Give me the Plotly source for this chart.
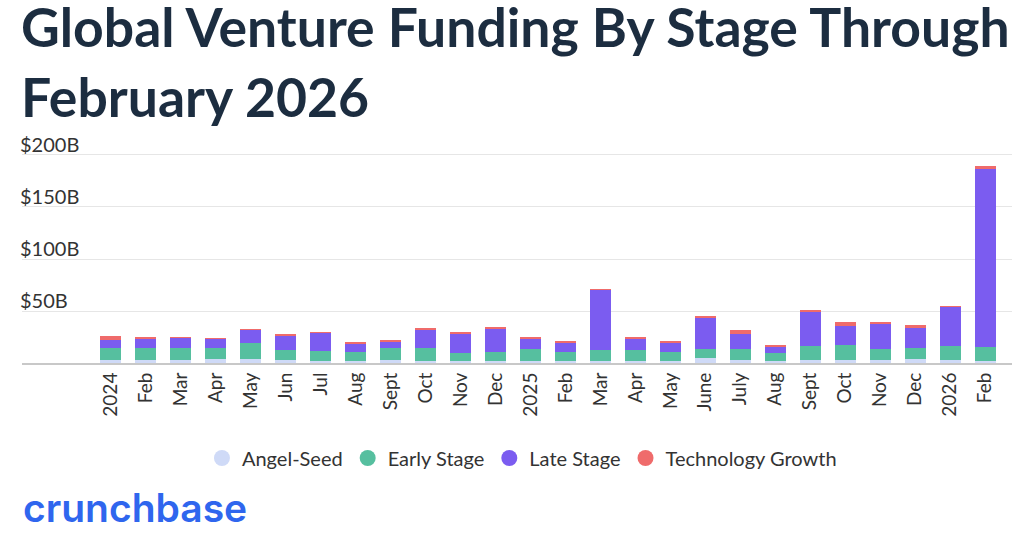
import plotly.graph_objects as go

# monthly global venture funding, $B
months = ["2024-01", "2024-02", "2024-03", "2024-04", "2024-05", "2024-06",
          "2024-07", "2024-08", "2024-09", "2024-10", "2024-11", "2024-12",
          "2025-01", "2025-02", "2025-03", "2025-04", "2025-05", "2025-06",
          "2025-07", "2025-08", "2025-09", "2025-10", "2025-11", "2025-12",
          "2026-01", "2026-02"]
tick_labels = ["2024", "Feb", "Mar", "Apr", "May", "Jun", "Jul", "Aug", "Sept",
               "Oct", "Nov", "Dec", "2025", "Feb", "Mar", "Apr", "May", "June",
               "July", "Aug", "Sept", "Oct", "Nov", "Dec", "2026", "Feb"]

angel_seed = [2.6, 2.6, 2.6, 3.8, 3.6, 2.6, 2.3, 1.9, 2.6, 1.9, 1.9, 1.9, 1.9,
              1.9, 1.9, 1.9, 1.9, 4.5, 3.2, 1.9, 3.2, 3.2, 2.6, 3.8, 3.2, 2.2]
early_stage = [11.5, 11.5, 11.5, 10.3, 15.7, 9.9, 9.3, 8.4, 11.5, 12.8, 8.0, 9.0, 11.5,
               9.0, 10.3, 10.3, 9.0, 9.3, 10.3, 7.7, 12.8, 14.1, 10.9, 10.9, 12.8, 12.8]
late_stage = [8.4, 9.0, 10.3, 9.0, 12.8, 13.8, 17.3, 8.0, 6.1, 17.6, 17.6, 21.8, 10.3,
              9.0, 58.0, 11.5, 9.0, 29.5, 14.1, 6.4, 33.3, 18.6, 24.4, 19.2, 38.5, 171.8]
tech_growth = [3.2, 1.3, 0.5, 0.3, 0.3, 1.3, 0.3, 1.0, 1.6, 1.3, 2.6, 1.3, 1.3,
               1.3, 0.3, 1.3, 1.3, 1.3, 3.8, 1.3, 1.3, 3.2, 1.3, 2.6, 0.3, 2.9]

y_ticks = [0, 50, 100, 150, 200]
y_tick_labels = ["0", "$50B", "$100B", "$150B", "$200B"]

series = [
    ("Angel-Seed", angel_seed, "#cfdaf7"),
    ("Early Stage", early_stage, "#56bf9f"),
    ("Late Stage", late_stage, "#7b5cf0"),
    ("Technology Growth", tech_growth, "#ef6b6b"),
]

W, H = 1024, 535
PLOT_TOP, PLOT_BOTTOM = 124, 363
Y_MAX = 229.8  # headroom so the "$200B" label sits inside the plot area


def py(px):
    # pixel row -> paper y
    return (PLOT_BOTTOM - px) / (PLOT_BOTTOM - PLOT_TOP)


fig = go.Figure()
for name, vals, color in series:
    fig.add_trace(go.Bar(
        x=months, y=vals, name=name, marker_color=color,
        marker_line_width=0, showlegend=False,
        hovertemplate=name + ": $%{y:.1f}B<extra></extra>"))

# round legend markers
for name, vals, color in series:
    fig.add_trace(go.Scatter(
        x=[None], y=[None], mode="markers", name=name,
        marker=dict(color=color, size=18, symbol="circle")))

fig.update_layout(
    width=W, height=H,
    barmode="stack", bargap=0.4,
    plot_bgcolor="white", paper_bgcolor="white",
    margin=dict(l=22, r=12, t=PLOT_TOP, b=H - PLOT_BOTTOM, autoexpand=False),
    font=dict(family="Lato", color="#333333"),
    legend=dict(
        orientation="h", traceorder="normal",
        x=0.505, xanchor="center", y=py(458), yanchor="middle",
        font=dict(size=20, color="#333333"), itemclick=False),
    annotations=[
        dict(text="Global Venture Funding By Stage Through<br>February 2026",
             x=-0.003, y=py(-8), xref="paper", yref="paper",
             xanchor="left", yanchor="top", align="left", showarrow=False,
             font=dict(family="Lato", size=53.5, color="#1c2d40", weight=700)),
        dict(text="crunchbase", x=-0.001, y=py(507), xref="paper", yref="paper",
             xanchor="left", yanchor="middle", showarrow=False,
             font=dict(family="Inter", size=39, color="#2f66ee", weight=600)),
    ],
)

fig.update_xaxes(
    type="category", range=[-2.54, 25.77],
    tickvals=months, ticktext=tick_labels, tickangle=-90,
    tickfont=dict(size=19, color="#333333"),
    showline=True, linecolor="#c8c8c8", linewidth=2,
    showgrid=False, ticks="")

fig.update_yaxes(
    range=[0, Y_MAX], tickvals=y_ticks, ticktext=y_tick_labels,
    ticklabelposition="inside top", ticklabelshift=4, ticklabelstandoff=-5,
    tickfont=dict(size=20, color="#333333"),
    showgrid=True, gridcolor="#e6e6e6", gridwidth=1,
    zeroline=False, showline=False, ticks="")

fig.write_html("out.html", config={"displayModeBar": False},
               post_script="document.body.style.margin='0';")
